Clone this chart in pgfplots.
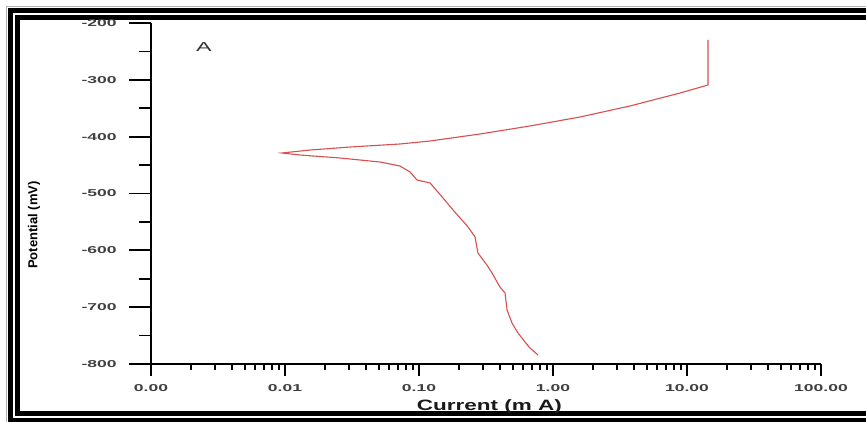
\documentclass[border=0pt]{standalone}
\usepackage{fontspec}
\setmainfont{Liberation Sans}
\usepackage{pgfplots}
\usepackage{pgfplotstable}
\usepackage{graphicx}
\pgfplotsset{compat=1.18}
\definecolor{curve}{RGB}{218,78,78}
\newcommand{\sx}[1]{\scalebox{1.75}[1]{#1}}
\pgfplotstableread{
x y
14.35 -229.9
14.35 -309.1
8.87 -323.2
3.755 -346.0
1.590 -365.4
0.673 -381.2
0.285 -395.3
0.121 -407.6
0.0721 -412.9
0.0306 -418.2
0.01537 -423.5
0.0095 -428.7
0.01294 -432.3
0.0257 -437.5
0.0512 -444.6
0.0721 -451.6
0.0858 -462.2
0.0966 -476.2
0.121 -481.5
0.151 -507.9
0.1796 -529.0
0.2323 -558.9
0.262 -576.5
0.2753 -604.7
0.3213 -625.8
0.3508 -639.9
0.4018 -664.5
0.4386 -675.1
0.4540 -705.0
0.4944 -727.9
0.5483 -745.5
0.6183 -761.3
0.673 -771.8
0.773 -784.2
}\curvedata
\begin{document}
\begin{tikzpicture}[x=1pt,y=1pt]
\useasboundingbox (0,0) rectangle (866,421);
\fill[white] (0,0) rectangle (866,421);
\draw[black!30, line width=0.8pt] (6.5,-5) -- (6.5,414.5) -- (900,414.5);
\draw[black, line width=5pt] (10.5,0.5) rectangle (890,410.5);
\draw[black, line width=5pt] (17.5,7.5) rectangle (880,403.5);
\begin{axis}[
  at={(151pt,57pt)}, anchor=south west,
  scale only axis, width=670pt, height=341pt,
  xmode=log, xmin=0.001, xmax=100, ymin=-800, ymax=-200,
  axis x line*=bottom, hide y axis,
  x axis line style={line width=1.6pt, -},
  xtick={0.001,0.01,0.1,1,10,100},
  xticklabels={\sx{0.00},\sx{0.01},\sx{0.10},\sx{1.00},\sx{10.00},\sx{100.00}},
  minor xtick={0.002,0.003,0.004,0.005,0.006,0.007,0.008,0.009,
               0.02,0.03,0.04,0.05,0.06,0.07,0.08,0.09,
               0.2,0.3,0.4,0.5,0.6,0.7,0.8,0.9,
               2,3,4,5,6,7,8,9,20,30,40,50,60,70,80,90},
  tick align=outside, major tick length=12pt, minor tick length=6pt,
  tick style={line width=1.8pt, black},
  xticklabel style={font=\fontsize{10}{10}\selectfont\bfseries, text=black!75, yshift=-5pt},
  xlabel={\scalebox{1.5}[1]{Current (m A)}},
  xlabel style={at={(axis description cs:0.505,-0.126)}, anchor=center,
    font=\fontsize{15}{15}\selectfont\bfseries, text=black!90},
  clip=false,
]
\addplot[curve, line width=1.1pt] table[x=x,y=y] {\curvedata};
\node[font=\fontsize{13}{13}\selectfont, text=black!80] at (axis description cs:0.079,0.93) {\scalebox{1.8}[1]{A}};
\end{axis}
\begin{axis}[
  at={(151pt,57pt)}, anchor=south west,
  scale only axis, width=670pt, height=341pt,
  xmode=log, xmin=0.001, xmax=100, ymin=-800, ymax=-200,
  hide x axis, axis y line*=left,
  y axis line style={line width=1.6pt, -},
  ytick={-800,-700,-600,-500,-400,-300,-200},
  minor ytick={-750,-650,-550,-450,-350,-250},
  yticklabels={\sx{-800},\sx{-700},\sx{-600},\sx{-500},\sx{-400},\sx{-300},\sx{-200}},
  tick align=outside, major tick length=22pt, minor tick length=12pt,
  tick style={line width=1.8pt, black},
  yticklabel style={font=\fontsize{10}{10}\selectfont\bfseries, text=black!75, xshift=-9pt},
  ylabel={Potential (mV)},
  ylabel style={at={(axis description cs:-0.1746,0.4076)}, anchor=center,
    font=\fontsize{13}{13}\selectfont\bfseries},
]
\addplot[draw=none] coordinates {(1,-500)};
\end{axis}
\end{tikzpicture}
\end{document}
